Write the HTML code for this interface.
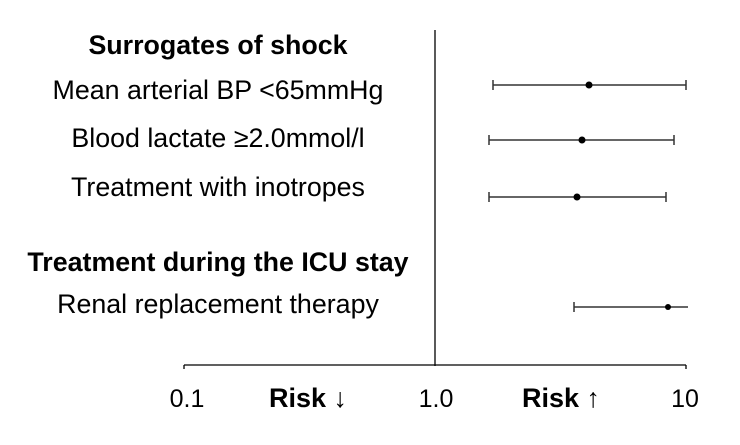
<!DOCTYPE html>
<html><head><style>
body{margin:0;background:#fff}
text{font-family:"Liberation Sans",sans-serif;fill:#000}
</style></head><body>
<svg width="740" height="440" xmlns="http://www.w3.org/2000/svg">
<g text-anchor="middle" font-size="26.8">
<text x="218" y="54" font-weight="bold">Surrogates of shock</text>
<text x="218" y="99">Mean arterial BP &lt;65mmHg</text>
<text x="218" y="147">Blood lactate ≥2.0mmol/l</text>
<text x="218" y="196">Treatment with inotropes</text>
<text x="218" y="271" font-weight="bold">Treatment during the ICU stay</text>
<text x="218" y="313">Renal replacement therapy</text>
</g>
<g stroke="#000" stroke-width="1.3">
<line x1="435" y1="30" x2="435" y2="366"/>
<line x1="184" y1="365" x2="686" y2="365"/>
<line x1="184" y1="365" x2="184" y2="369"/>
<line x1="686" y1="365" x2="686" y2="369"/>
</g>
<g stroke="#333" stroke-width="1.5">
<line x1="493" y1="85" x2="686" y2="85"/><line x1="493" y1="80" x2="493" y2="90"/><line x1="686" y1="80" x2="686" y2="90"/>
<line x1="489" y1="140" x2="674" y2="140"/><line x1="489" y1="135" x2="489" y2="145"/><line x1="674" y1="135" x2="674" y2="145"/>
<line x1="489" y1="197" x2="666" y2="197"/><line x1="489" y1="192" x2="489" y2="202"/><line x1="666" y1="192" x2="666" y2="202"/>
<line x1="574" y1="307" x2="688" y2="307"/><line x1="574" y1="302" x2="574" y2="312"/>
</g>
<circle cx="589" cy="85" r="3.5"/><circle cx="582" cy="140" r="3.5"/><circle cx="577" cy="197" r="3.5"/><circle cx="668" cy="307" r="3"/>
<g font-size="25" text-anchor="middle">
<text x="187" y="407">0.1</text>
<text x="436" y="407">1.0</text>
<text x="685" y="407">10</text>
<text x="308" y="407" font-weight="bold" font-size="27">Risk ↓</text>
<text x="561" y="407" font-weight="bold" font-size="27">Risk ↑</text>
</g>
</svg>
</body></html>
